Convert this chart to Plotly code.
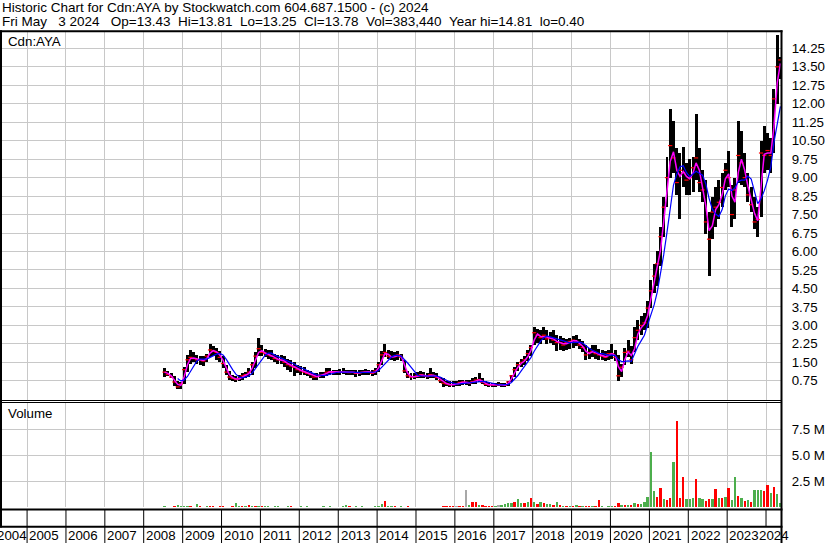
import pandas as pd
import plotly.graph_objects as go

# ---------------- data (monthly) ----------------
first_month = "2008-07-01"
last_month = "2024-05-01"

high = [
    # 2008 Jul-Dec
    1.25, 1.15, 1.05, 0.95, 0.75, 0.70,
    # 2009
    1.30, 1.80, 2.00, 1.90, 1.80, 1.75, 1.75, 1.85, 2.25, 2.15, 2.10, 1.95,
    # 2010
    1.75, 1.40, 1.15, 1.00, 0.95, 1.00, 1.05, 1.10, 1.25, 1.50, 1.90, 2.50,
    # 2011
    2.20, 2.05, 2.00, 2.00, 1.85, 1.80, 1.80, 1.75, 1.65, 1.60, 1.50, 1.40,
    # 2012
    1.35, 1.30, 1.20, 1.15, 1.05, 1.05, 1.10, 1.10, 1.25, 1.25, 1.20, 1.20,
    # 2013
    1.22, 1.25, 1.20, 1.18, 1.20, 1.20, 1.18, 1.20, 1.22, 1.20, 1.18, 1.25,
    # 2014
    1.50, 1.95, 2.25, 2.00, 1.95, 1.90, 1.95, 1.85, 1.60, 1.15, 1.05, 1.05,
    # 2015
    1.10, 1.15, 1.10, 1.08, 1.25, 1.12, 1.05, 0.90, 0.85, 0.75, 0.72, 0.72,
    # 2016
    0.75, 0.78, 0.80, 0.78, 0.78, 0.85, 0.90, 1.05, 0.85, 0.72, 0.70, 0.65,
    # 2017
    0.65, 0.68, 0.65, 0.65, 0.75, 1.00, 1.30, 1.50, 1.65, 1.75, 2.00, 2.20,
    # 2018
    2.95, 2.85, 2.80, 2.95, 2.80, 2.75, 2.80, 2.60, 2.55, 2.50, 2.45, 2.50,
    # 2019
    2.55, 2.60, 2.45, 2.35, 2.20, 2.10, 2.20, 2.20, 2.05, 2.00, 1.95, 2.00,
    # 2020
    2.25, 2.00, 1.80, 1.45, 2.10, 2.40, 2.15, 2.95, 3.20, 3.40, 3.50, 4.00,
    # 2021
    4.85, 5.50, 6.00, 7.00, 8.20, 9.85, 11.80, 11.30, 10.20, 10.00, 10.25, 9.60,
    # 2022
    9.75, 9.85, 11.60, 10.20, 9.30, 8.90, 7.60, 8.20, 8.60, 8.90, 9.20, 9.60,
    # 2023
    10.10, 8.70, 9.00, 11.30, 10.90, 10.00, 9.20, 8.60, 8.20, 7.80, 10.50, 11.10,
    # 2024 Jan-May
    10.80, 10.60, 12.60, 14.81, 13.90,
]

low = [
    0.90, 0.95, 0.85, 0.55, 0.40, 0.42,
    0.60, 1.10, 1.45, 1.50, 1.45, 1.40, 1.35, 1.50, 1.70, 1.75, 1.60, 1.50,
    1.25, 1.00, 0.80, 0.72, 0.70, 0.72, 0.80, 0.85, 0.90, 1.00, 1.25, 1.75,
    1.75, 1.70, 1.65, 1.60, 1.50, 1.45, 1.45, 1.30, 1.20, 1.10, 0.95, 1.05,
    1.00, 1.00, 0.95, 0.88, 0.80, 0.80, 0.85, 0.88, 0.95, 1.00, 1.00, 1.00,
    1.00, 1.02, 1.00, 0.98, 0.98, 0.92, 0.95, 1.00, 1.00, 0.98, 0.95, 1.00,
    1.10, 1.40, 1.70, 1.65, 1.60, 1.55, 1.60, 1.55, 1.05, 0.85, 0.80, 0.82,
    0.85, 0.88, 0.85, 0.82, 0.88, 0.85, 0.80, 0.65, 0.50, 0.52, 0.48, 0.50,
    0.52, 0.55, 0.58, 0.58, 0.55, 0.60, 0.62, 0.70, 0.60, 0.55, 0.50, 0.50,
    0.50, 0.52, 0.50, 0.48, 0.52, 0.70, 0.90, 1.15, 1.30, 1.40, 1.55, 1.75,
    2.20, 2.30, 2.25, 2.40, 2.25, 2.30, 2.20, 1.95, 2.00, 1.95, 2.00, 2.05,
    2.10, 2.15, 2.05, 1.90, 1.60, 1.65, 1.70, 1.65, 1.60, 1.60, 1.55, 1.60,
    1.65, 1.55, 0.75, 0.90, 1.40, 1.70, 1.45, 1.90, 2.40, 2.60, 2.80, 2.90,
    3.70, 4.30, 4.60, 5.40, 6.60, 7.80, 9.00, 9.20, 8.30, 7.30, 8.60, 8.30,
    8.30, 8.40, 8.90, 8.40, 8.00, 6.70, 5.00, 6.50, 7.00, 7.30, 7.80, 8.50,
    8.60, 7.00, 7.30, 8.80, 8.70, 8.60, 8.00, 7.60, 6.90, 6.60, 7.40, 9.20,
    9.30, 9.20, 10.00, 12.00, 13.00,
]

close = [
    1.10, 1.00, 0.90, 0.70, 0.50, 0.62,
    1.20, 1.60, 1.70, 1.65, 1.60, 1.60, 1.55, 1.75, 2.00, 1.95, 1.90, 1.70,
    1.45, 1.10, 0.90, 0.85, 0.80, 0.85, 0.95, 1.00, 1.10, 1.40, 1.75, 2.05,
    1.90, 1.85, 1.80, 1.75, 1.65, 1.60, 1.60, 1.50, 1.40, 1.35, 1.30, 1.20,
    1.15, 1.10, 1.05, 1.00, 0.90, 0.92, 0.98, 1.00, 1.10, 1.12, 1.10, 1.10,
    1.10, 1.12, 1.10, 1.08, 1.10, 1.05, 1.08, 1.10, 1.12, 1.10, 1.05, 1.15,
    1.40, 1.80, 1.90, 1.75, 1.70, 1.75, 1.80, 1.70, 1.15, 0.95, 0.90, 0.92,
    0.95, 1.00, 0.95, 0.92, 1.00, 0.95, 0.88, 0.75, 0.65, 0.62, 0.58, 0.60,
    0.62, 0.68, 0.70, 0.68, 0.65, 0.72, 0.78, 0.80, 0.68, 0.60, 0.58, 0.58,
    0.58, 0.60, 0.58, 0.56, 0.70, 0.95, 1.20, 1.40, 1.50, 1.60, 1.85, 2.10,
    2.70, 2.60, 2.50, 2.60, 2.45, 2.50, 2.40, 2.30, 2.30, 2.20, 2.30, 2.35,
    2.40, 2.35, 2.20, 2.10, 1.80, 1.90, 1.95, 1.85, 1.80, 1.75, 1.70, 1.85,
    1.85, 1.70, 0.95, 1.30, 1.90, 1.95, 1.60, 2.50, 2.80, 3.00, 3.10, 3.70,
    4.40, 5.00, 5.50, 6.60, 7.80, 9.00, 10.30, 9.80, 8.80, 9.30, 9.20, 8.90,
    9.00, 9.40, 9.80, 8.80, 8.50, 7.20, 6.50, 7.60, 7.80, 8.00, 8.60, 9.30,
    9.00, 7.50, 8.50, 9.90, 9.60, 9.00, 8.30, 7.90, 7.20, 7.30, 10.00, 9.90,
    10.10, 9.90, 12.20, 13.50, 13.78,
]

# volume in millions, with bar colour code (g = up, r = down, n = unchanged)
volume = [
    0.05, 0.03, 0.04, 0.06, 0.15, 0.05,
    0.08, 0.10, 0.05, 0.04, 0.25, 0.05, 0.03, 0.05, 0.12, 0.10, 0.04, 0.05,
    0.05, 0.03, 0.04, 0.05, 0.35, 0.12, 0.05, 0.08, 0.15, 0.05, 0.08, 0.10,
    0.12, 0.05, 0.08, 0.03, 0.05, 0.10, 0.03, 0.02, 0.08, 0.06, 0.02, 0.03,
    0.05, 0.03, 0.06, 0.02, 0.04, 0.03, 0.02, 0.05, 0.02, 0.06, 0.02, 0.03,
    0.04, 0.12, 0.15, 0.05, 0.03, 0.08, 0.03, 0.05, 0.02, 0.04, 0.03, 0.08,
    0.10, 0.30, 0.55, 0.08, 0.06, 0.05, 0.04, 0.05, 0.04, 0.06, 0.03, 0.02,
    0.02, 0.02, 0.01, 0.02, 0.03, 0.02, 0.03, 0.02, 0.10, 0.05, 0.08, 0.06,
    0.10, 0.08, 0.12, 1.65, 0.15, 0.45, 0.45, 0.20, 0.15, 0.10, 0.12, 0.08,
    0.10, 0.22, 0.15, 0.30, 0.40, 0.35, 0.50, 0.77, 0.40, 0.35, 0.45, 0.90,
    0.45, 0.30, 0.50, 0.40, 0.30, 0.25, 0.20, 0.45, 0.20, 0.12, 0.10, 0.12,
    0.08, 0.15, 0.08, 0.05, 0.12, 0.08, 0.05, 0.10, 0.70, 0.05, 0.04, 0.08,
    0.05, 0.10, 0.38, 0.20, 0.15, 0.20, 0.15, 0.35, 0.25, 0.30, 0.45, 1.00,
    5.30, 1.50, 1.00, 1.80, 0.80, 0.70, 0.90, 4.30, 8.30, 0.90, 2.90, 0.80,
    0.80, 0.90, 2.70, 0.90, 0.80, 0.60, 0.80, 0.80, 1.70, 0.90, 0.90, 1.00,
    1.80, 0.70, 2.90, 1.10, 0.90, 0.60, 0.70, 0.50, 1.60, 1.60, 1.60, 1.50,
    2.10, 1.30, 1.90, 1.25, 0.40,
]
vol_dir = list(
    "grrrgg"
    "ggrggrggrrgr"
    "rrgrggrgrgrg"
    "rggrggrggrgg"
    "grggrgggrggr"
    "gggrggrgggrg"
    "ggrggrrgrrrr"
    "grggrgrrrrrr"
    "nrrngrrgrrrr"
    "gnggggrggrgr"
    "grgrggrgrgrg"
    "rgrgrrgrrgrg"
    "grrgrgrgrggg"
    "ggrrgrrgrrrg"
    "ggrggrrgrgrg"
    "rggrgrgrgggr"
    "rgrgg"
)

price_ticks = [0.75, 1.50, 2.25, 3.00, 3.75, 4.50, 5.25, 6.00, 6.75, 7.50,
               8.25, 9.00, 9.75, 10.50, 11.25, 12.00, 12.75, 13.50, 14.25]
volume_ticks = [2.5, 5.0, 7.5]
volume_tick_text = ["2.5 M", "5.0 M", "7.5 M"]
years = list(range(2004, 2025))

title_1 = "Historic Chart for Cdn:AYA by Stockwatch.com 604.687.1500 - (c) 2024"
title_2 = ("Fri May   3 2024   Op=13.43  Hi=13.81  Lo=13.25  Cl=13.78  "
           "Vol=383,440  Year hi=14.81  lo=0.40")

# ---------------- derived ----------------
dates = pd.date_range(first_month, last_month, freq="MS") + pd.Timedelta(days=14)
s_close = pd.Series(close)
ma_short = s_close.rolling(2, min_periods=1).mean()
ma_long = s_close.rolling(5, min_periods=5).mean()
bar_len = [h - l for h, l in zip(high, low)]
col_map = {"g": "#4cae4c", "r": "#ff0000", "n": "#a8a8a8"}
vol_colors = [col_map[c] for c in vol_dir]

# ---------------- layout geometry helpers ----------------
W, H = 830, 543
ML, MR, MT, MB = 1, 48, 32, 34
PW, PH = W - ML - MR, H - MT - MB


def px(xp):
    return (xp - ML) / PW


def py(yp):
    return (H - MB - yp) / PH


DAY = 86400000
FONT = "Liberation Sans, Arial, sans-serif"
GRID = "#c8c8c8"

fig = go.Figure()

fig.add_trace(go.Bar(x=dates, y=bar_len, base=low, width=28 * DAY,
                     marker=dict(color="black", line=dict(width=0)),
                     xaxis="x", yaxis="y", hoverinfo="skip"))
fig.add_trace(go.Scatter(x=dates, y=close, mode="markers",
                         marker=dict(symbol="line-ew", size=3,
                                     line=dict(width=1.2, color="#ff0000")),
                         xaxis="x", yaxis="y", hoverinfo="skip"))
fig.add_trace(go.Scatter(x=dates, y=ma_short, mode="lines",
                         line=dict(color="#ff00ff", width=1.5),
                         xaxis="x", yaxis="y", hoverinfo="skip"))
fig.add_trace(go.Scatter(x=dates, y=ma_long, mode="lines",
                         line=dict(color="#0000ff", width=1.2),
                         xaxis="x", yaxis="y", hoverinfo="skip"))
fig.add_trace(go.Bar(x=dates, y=volume, width=22 * DAY,
                     marker=dict(color=vol_colors, line=dict(width=0)),
                     xaxis="x2", yaxis="y2", hoverinfo="skip"))

xcommon = dict(type="date", range=["2004-05-01", "2024-05-30"],
               tick0="2005-01-01", dtick="M12", showgrid=True,
               gridcolor=GRID, gridwidth=1, showticklabels=False,
               ticks="", zeroline=False, showline=False, fixedrange=True)

fig.update_layout(
    width=W, height=H,
    margin=dict(l=ML, r=MR, t=MT, b=MB, pad=0),
    paper_bgcolor="white", plot_bgcolor="white",
    showlegend=False,
    font=dict(family=FONT, size=13.3, color="black"),
    bargap=0,
    xaxis=dict(anchor="y", domain=[0, 1], **xcommon),
    xaxis2=dict(anchor="y2", domain=[0, 1], matches="x", **xcommon),
    yaxis=dict(domain=[py(401), 1], range=[-0.073, 14.915], side="right",
               anchor="x", tickvals=price_ticks,
               ticktext=["%.2f" % v for v in price_ticks],
               showgrid=True, gridcolor=GRID, gridwidth=1, zeroline=False,
               ticks="outside", ticklen=6, tickcolor="rgba(0,0,0,0)",
               showline=False, fixedrange=True,
               tickfont=dict(size=13.3, color="black")),
    yaxis2=dict(domain=[py(507), py(403)], range=[0, 10.0], side="right",
                anchor="x2", tickvals=volume_ticks, ticktext=volume_tick_text,
                showgrid=True, gridcolor=GRID, gridwidth=1, zeroline=False,
                ticks="outside", ticklen=6, tickcolor="rgba(0,0,0,0)",
                showline=False, fixedrange=True,
                tickfont=dict(size=13.3, color="black")),
)

shapes = []


def hline(yp, x0p, x1p, w):
    shapes.append(dict(type="line", xref="paper", yref="paper",
                       x0=px(x0p), x1=px(x1p), y0=py(yp), y1=py(yp),
                       line=dict(color="black", width=w)))


def vline(xp, y0p, y1p, w):
    shapes.append(dict(type="line", xref="paper", yref="paper",
                       x0=px(xp), x1=px(xp), y0=py(y0p), y1=py(y1p),
                       line=dict(color="black", width=w)))


hline(31.3, 0, 782.5, 2)
hline(400.5, 0, 782, 1)
hline(402.5, 0, 782, 1)
hline(509.5, 0, 782.5, 2)
hline(526.7, 0, 782.5, 2)
vline(781.5, 30.3, 543, 2)
vline(1, 30.3, 527.5, 2)

for yr in years[1:]:
    y_bottom = 526 if yr == 2024 else 543
    shapes.append(dict(type="line", xref="x2", yref="paper",
                       x0="%d-01-01" % yr, x1="%d-01-01" % yr,
                       y0=py(510), y1=py(y_bottom),
                       line=dict(color="black", width=1)))

fig.update_layout(shapes=shapes)

ann = []


def label(text, xp, yp, size=13.3, anchor="left"):
    ann.append(dict(text=text.replace(" ", "\u00a0"), xref="paper", yref="paper",
                    x=px(xp), y=py(yp), xanchor=anchor, yanchor="middle",
                    showarrow=False, font=dict(size=size, color="black"),
                    borderpad=0))


label(title_1, 1, 7.5, size=13.5)
label(title_2, 1, 21.5, size=13.5)
label("Cdn:AYA", 7, 41)
label("Volume", 7, 413)

for yr in years:
    if yr == 2004:
        x, xa, xs = "2005-01-01", "right", 1
    elif yr == 2024:
        x, xa, xs = "2024-01-01", "left", -8
    else:
        x, xa, xs = "%d-07-01" % yr, "center", -2
    ann.append(dict(text=str(yr), xref="x2", yref="paper", x=x,
                    y=py(535), xanchor=xa, yanchor="middle", xshift=xs,
                    showarrow=False, font=dict(size=13.3, color="black"),
                    borderpad=0))

fig.update_layout(annotations=ann)

fig.write_html(
    "out.html",
    config={"displayModeBar": False, "staticPlot": True},
    post_script="document.body.style.margin='0';document.body.style.padding='0';"
                "document.body.style.overflow='hidden';",
)
